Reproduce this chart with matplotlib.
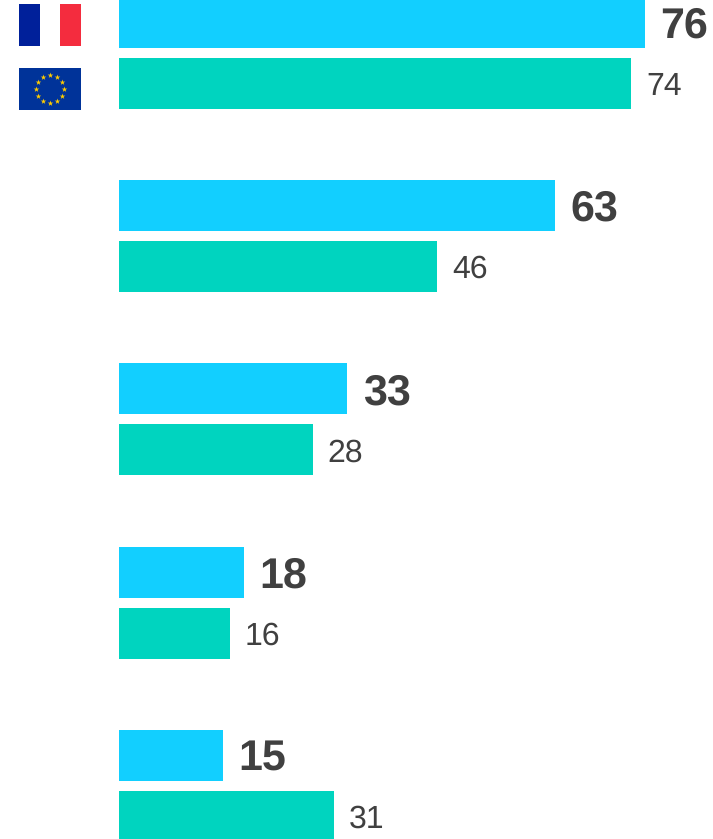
import numpy as np
import matplotlib
matplotlib.use("Agg")
import matplotlib.pyplot as plt
from matplotlib.patches import Rectangle

plt.rcParams['font.family'] = ['Liberation Sans', 'DejaVu Sans']
plt.rcParams['text.hinting'] = 'none'
plt.rcParams['text.hinting_factor'] = 1

fr_values = [76, 63, 33, 18, 15]
eu_values = [74, 46, 28, 16, 31]

W, H = 713, 839
PX = 6.92      # pixels per unit
PITCH = 183.3  # pixels per group
X0 = 119
Y0 = 22.1
OFF = 61 / PITCH
BH = 51 / PITCH
BLUE = '#12CFFF'
GREEN = '#00D4BF'
TXT = '#404040'

fig = plt.figure(figsize=(W / 100, H / 100), dpi=100)
ax = fig.add_axes([0, 0, 1, 1])
ax.set_xlim(-X0 / PX, (W - X0) / PX)
ax.set_ylim((H - Y0) / PITCH, -Y0 / PITCH)
ax.axis('off')

y = np.arange(len(fr_values))
ax.barh(y, fr_values, height=BH, color=BLUE)
ax.barh(y + OFF, eu_values, height=BH, color=GREEN)
for i, (f, e) in enumerate(zip(fr_values, eu_values)):
    ax.annotate(str(f), (f, i), xytext=(15.5, 0), textcoords='offset pixels',
                ha='left', va='center_baseline', fontsize=30.8, fontweight='bold', color=TXT)
    ax.annotate(str(e), (e, i + OFF), xytext=(15, 0), textcoords='offset pixels',
                ha='left', va='center_baseline', fontsize=23.2, color=TXT)

# Flags, drawn in a pixel-coordinate overlay
ov = fig.add_axes([0, 0, 1, 1], facecolor='none')
ov.set_xlim(0, W)
ov.set_ylim(H, 0)
ov.axis('off')
ov.add_patch(Rectangle((19, 4), 21, 42, color='#00209A', lw=0))
ov.add_patch(Rectangle((60, 4), 21, 42, color='#F42C3E', lw=0))
ov.add_patch(Rectangle((19, 68), 62, 42, color='#003399', lw=0))
ang = np.arange(12) * np.pi / 6
ov.scatter(50 + 14 * np.cos(ang), 89 + 14 * np.sin(ang), marker='*', s=18,
           color='#FFCC00', linewidths=0)

fig.savefig('out.png', dpi=100)
